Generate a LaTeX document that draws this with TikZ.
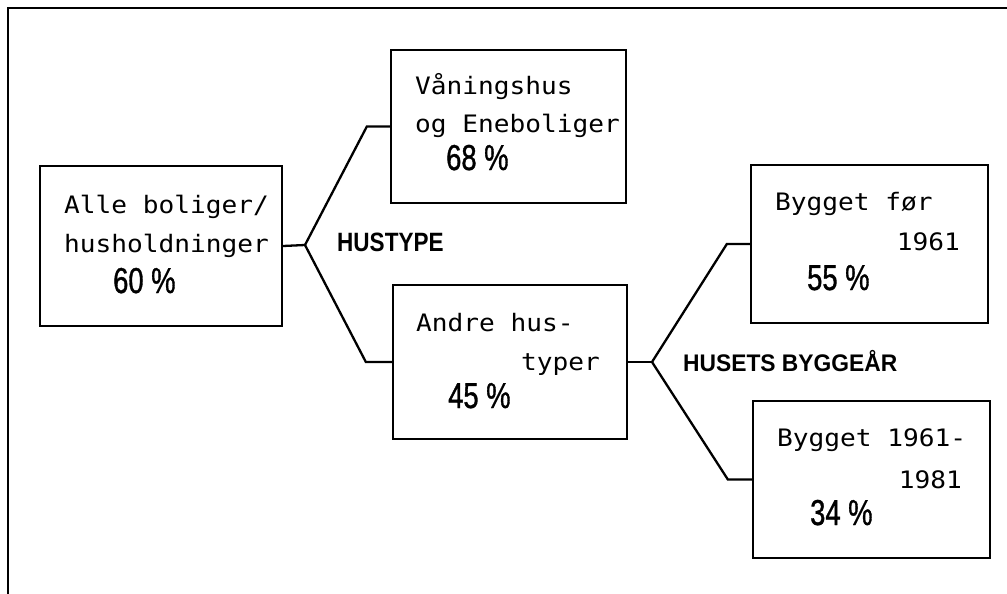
\documentclass[tikz,border=0pt]{standalone}
\usepackage{fontspec}
\newfontfamily\boxfont[FakeStretch=1.09]{DejaVu Sans Mono}
\newfontfamily\pctfont[FakeStretch=0.76,FakeBold=1]{Liberation Sans}
\newfontfamily\headfont[FakeStretch=0.85]{Liberation Sans}
\newfontfamily\headwfont[FakeStretch=0.95]{Liberation Sans}
\tikzset{
  box/.style={draw, line width=2.3pt, inner sep=0pt},
  txt/.style={inner sep=0pt, anchor=base west, font=\boxfont\fontsize{24}{24}\selectfont},
  txtr/.style={txt, anchor=base east},
  pct/.style={inner sep=0pt, anchor=base west, font=\pctfont\fontsize{36}{36}\selectfont},
  heading/.style={inner sep=0pt, anchor=base west, font=\headfont\bfseries\fontsize{26.5}{26.5}\selectfont},
  link/.style={line width=2.3pt, line join=miter}
}
\begin{document}
\begin{tikzpicture}[x=1pt,y=-1pt]
    \useasboundingbox (0,0) rectangle (1007,594);
    \draw[line width=2.6pt] (8,594) -- (8,8) -- (1007,8);

    % boxes
    \node[box, minimum width=242pt, minimum height=160pt] (B0) at (161,246) {};
    \node[box, minimum width=235pt, minimum height=153pt] (B1) at (508.5,126.5) {};
    \node[box, minimum width=234pt, minimum height=154pt] (B2) at (510,362) {};
    \node[box, minimum width=237pt, minimum height=158pt] (B3) at (869.5,244) {};
    \node[box, minimum width=237pt, minimum height=157pt] (B4) at (871.5,479.5) {};

    % box texts
    \node[txt] (T0a) at (64,213) {Alle boliger/};
    \node[txt] (T0b) at (64,252) {husholdninger};
    \node[pct] (P0) at (113,293) {60 \%};

    \node[txt] (T1a) at (415,95) {Våningshus};
    \node[txt] (T1b) at (415,132) {og Eneboliger};
    \node[pct] (P1) at (446,170) {68 \%};

    \node[txt] (T2a) at (416,331) {Andre hus-};
    \node[txtr] (T2b) at (600,370) {typer};
    \node[pct] (P2) at (448,408) {45 \%};

    \node[txt] (T3a) at (775,210) {Bygget før};
    \node[txtr] (T3b) at (960,250) {1961};
    \node[pct] (P3) at (807,290) {55 \%};

    \node[txt] (T4a) at (777,446) {Bygget 1961-};
    \node[txtr] (T4b) at (962,488) {1981};
    \node[pct] (P4) at (810,525) {34 \%};

    % branches
    \coordinate (J0) at (305,245);
    \coordinate (J1) at (652,362);
    \node[heading] (H0) at (337,251) {HUSTYPE};
    \node[heading, font=\headwfont\bfseries\fontsize{24}{24}\selectfont] (H1) at (683,371) {HUSETS BYGGEÅR};

    \draw[link] (B0.east) -- (J0);
    \draw[link] (J0) -- ([xshift=-23pt]B1.west) -- (B1.west);
    \draw[link] (J0) -- ([xshift=-26pt]B2.west) -- (B2.west);
    \draw[link] (B2.east) -- (J1);
    \draw[link] (J1) -- ([xshift=-23pt]B3.west) -- (B3.west);
    \draw[link] (J1) -- ([xshift=-24pt]B4.west) -- (B4.west);
\end{tikzpicture}
\end{document}
